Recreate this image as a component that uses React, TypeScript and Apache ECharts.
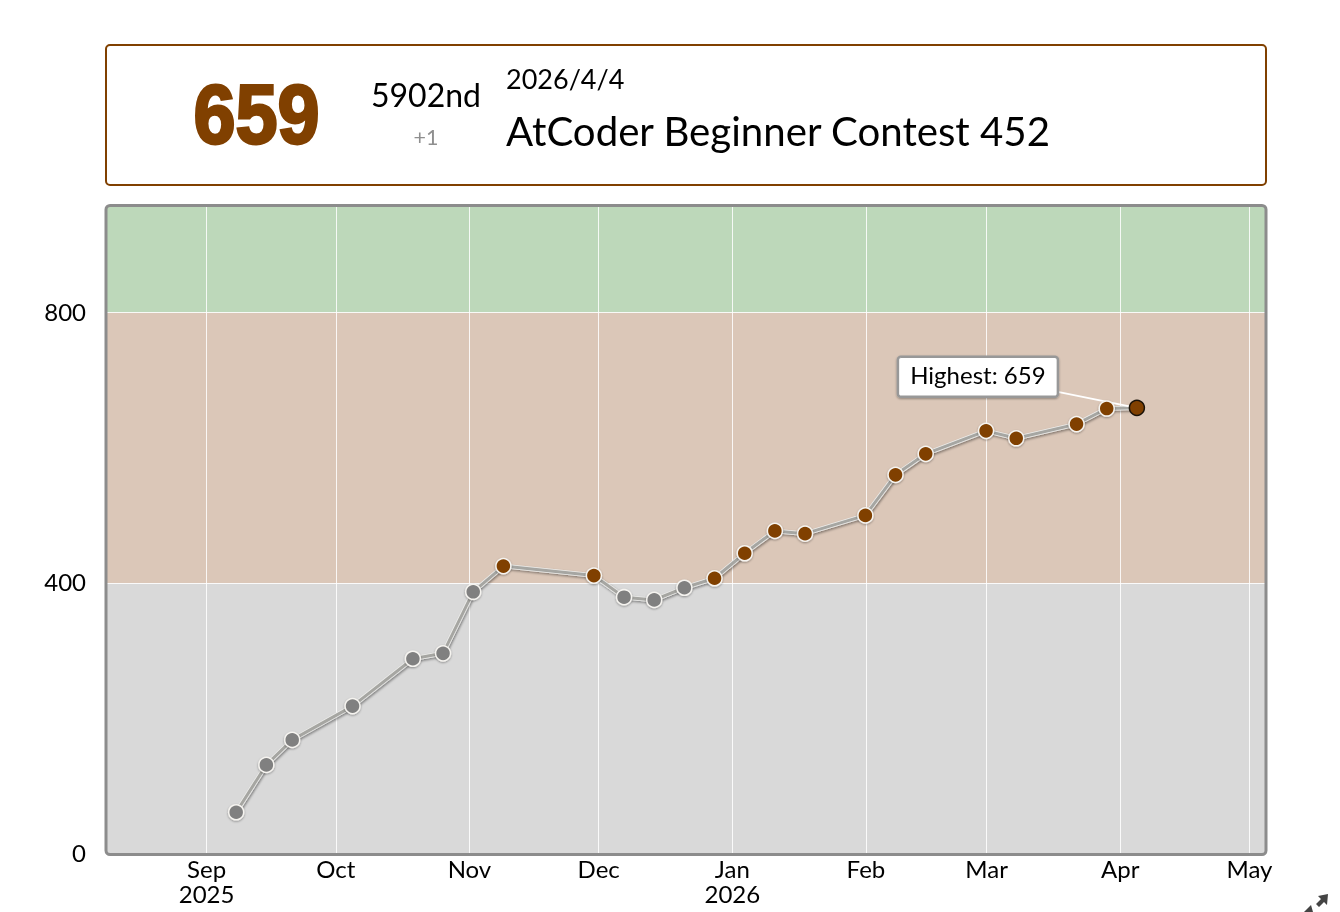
import React, { useEffect, useRef } from 'react';
import * as echarts from 'echarts';

const contestDays = [
  '2025-09-07', '2025-09-14', '2025-09-20', '2025-10-04', '2025-10-18', '2025-10-25',
  '2025-11-01', '2025-11-08', '2025-11-29', '2025-12-06', '2025-12-13', '2025-12-20',
  '2025-12-27', '2026-01-03', '2026-01-10', '2026-01-17', '2026-01-31', '2026-02-07',
  '2026-02-14', '2026-02-28', '2026-03-07', '2026-03-21', '2026-03-28', '2026-04-04',
];
const ratings = [
  61, 131, 168, 218, 288, 296, 387, 425, 411, 379, 375, 393,
  407, 444, 477, 473, 500, 560, 591, 625, 614, 635, 658, 659,
];
const monthTicks = [
  '2025-09-01', '2025-10-01', '2025-11-01', '2025-12-01', '2026-01-01',
  '2026-02-01', '2026-03-01', '2026-04-01', '2026-05-01',
];
const monthNames = ['Jan', 'Feb', 'Mar', 'Apr', 'May', 'Jun', 'Jul', 'Aug', 'Sep', 'Oct', 'Nov', 'Dec'];
const ratingTicks = [0, 400, 800];
const ratingBands = [
  { from: 0, to: 400, color: '#d9d9d9' },
  { from: 400, to: 800, color: '#dbc7b8' },
  { from: 800, to: 957.5, color: '#bdd8ba' },
];

const FONT = 'Lato, "Noto Sans", sans-serif';
const BROWN = '#804000';
const GRAY = '#808080';

const toTime = (day: string, hour = 0) => Date.UTC(+day.slice(0, 4), +day.slice(5, 7) - 1, +day.slice(8, 10), hour);

const App: React.FC = () => {
  const chartRef = useRef<HTMLDivElement>(null);

  useEffect(() => {
    if (!chartRef.current) return;
    document.body.style.margin = '0';
    const chart = echarts.init(chartRef.current, undefined, { renderer: 'svg' });

    const points = contestDays.map((day, i) => [toTime(day, 21), ratings[i]]);
    const last = points[points.length - 1];
    const dots = points.slice(0, -1).map((p) => ({
      value: p,
      itemStyle: { color: (p[1] as number) >= 400 ? BROWN : GRAY },
    }));

    const option: any = {
      animation: false,
      textStyle: { fontFamily: FONT },
      grid: { left: 107, right: 74, top: 206, bottom: 58.5 },
      xAxis: {
        // timestamps on a value axis, so that the month ticks can be listed
        type: 'value',
        z: 2,
        min: Date.UTC(2025, 7, 8, 21, 36),
        max: Date.UTC(2026, 4, 4, 20),
        axisLine: { show: false },
        axisTick: { show: false, customValues: monthTicks.map((d) => toTime(d)) },
        splitLine: { show: true, lineStyle: { color: 'rgba(255,255,255,0.85)', width: 1 } },
        axisLabel: {
          customValues: monthTicks.map((d) => toTime(d)),
          color: '#000',
          fontSize: 24,
          fontFamily: FONT,
          lineHeight: 25,
          margin: 2,
          formatter: (value: number) => {
            const d = new Date(value);
            const m = d.getUTCMonth();
            const name = monthNames[m];
            return m === 0 || (d.getUTCFullYear() === 2025 && m === 8) ? `${name}\n${d.getUTCFullYear()}` : name;
          },
        },
      },
      yAxis: {
        type: 'value',
        z: 2,
        min: 0,
        max: 957.5,
        axisLine: { show: false },
        axisTick: { show: false, customValues: ratingTicks },
        splitLine: { show: true, lineStyle: { color: 'rgba(255,255,255,0.85)', width: 1 } },
        axisLabel: {
          customValues: ratingTicks,
          color: '#000',
          fontSize: 24,
          fontFamily: FONT,
          margin: 21,
          formatter: (value: number) => `{r|${value}}`,
          rich: {
            r: { color: '#000', fontSize: 24, fontFamily: FONT, padding: [0, 0, 3, 0] },
          },
        },
      },
      series: [
        {
          // colour bands sit under the grid lines
          type: 'line',
          z: 1,
          silent: true,
          data: [],
          markArea: {
            silent: true,
            itemStyle: { opacity: 1 },
            data: ratingBands.map((b) => [
              { yAxis: b.from, itemStyle: { color: b.color } },
              { yAxis: b.to },
            ]),
          },
        },
        {
          type: 'line',
          z: 3,
          silent: true,
          symbol: 'none',
          data: points,
          lineStyle: {
            color: '#eeeeec',
            width: 4.5,
            shadowColor: 'rgba(0,0,0,0.4)',
            shadowBlur: 2,
            shadowOffsetX: 1,
            shadowOffsetY: 1.5,
          },
        },
        {
          type: 'line',
          z: 4,
          silent: true,
          symbol: 'none',
          data: points,
          lineStyle: { color: '#a6a6a2', width: 3 },
        },
        {
          type: 'custom',
          z: 5,
          silent: true,
          data: [last],
          renderItem: (_params: any, api: any) => {
            const [px, py] = api.coord([api.value(0), api.value(1)]);
            const boxW = 160;
            const boxH = 40;
            const boxX = px - 239;
            const boxY = py - 51;
            return {
              type: 'group',
              children: [
                {
                  type: 'line',
                  shape: { x1: boxX + boxW, y1: boxY + boxH - 5, x2: px, y2: py },
                  style: { stroke: '#ffffff', lineWidth: 2 },
                },
                {
                  type: 'rect',
                  shape: { x: boxX, y: boxY, width: boxW, height: boxH, r: 3 },
                  style: {
                    fill: '#ffffff',
                    stroke: '#989898',
                    lineWidth: 2.5,
                    shadowColor: 'rgba(0,0,0,0.35)',
                    shadowBlur: 2,
                    shadowOffsetY: 1,
                  },
                },
                {
                  type: 'text',
                  x: boxX + boxW / 2,
                  y: boxY + boxH / 2 - 2,
                  style: {
                    text: `Highest: ${api.value(1)}`,
                    fill: '#000',
                    font: `24px ${FONT}`,
                    align: 'center',
                    verticalAlign: 'middle',
                  },
                },
              ],
            };
          },
        },
        {
          type: 'line',
          z: 6,
          silent: true,
          showAllSymbol: true,
          symbol: 'circle',
          symbolSize: 15,
          lineStyle: { width: 0, opacity: 0 },
          data: dots,
          itemStyle: {
            borderColor: '#f6f4f0',
            borderWidth: 1.5,
            shadowColor: 'rgba(0,0,0,0.35)',
            shadowBlur: 2,
            shadowOffsetY: 1,
          },
        },
        {
          type: 'line',
          z: 6,
          silent: true,
          symbol: 'circle',
          symbolSize: 15,
          lineStyle: { width: 0, opacity: 0 },
          data: [last],
          itemStyle: { color: BROWN, borderColor: '#1a1208', borderWidth: 1.5 },
        },
      ],
      graphic: [
        {
          type: 'rect',
          z: 10,
          silent: true,
          shape: { x: 106, y: 45, width: 1160, height: 140, r: 4 },
          style: { fill: '#ffffff', stroke: BROWN, lineWidth: 2 },
        },
        {
          type: 'rect',
          z: 10,
          silent: true,
          shape: { x: 106, y: 205.5, width: 1160, height: 649, r: 4 },
          style: { fill: 'none', stroke: '#8c8c8c', lineWidth: 3 },
        },
        {
          type: 'text',
          z: 11,
          x: 256.5,
          y: 114.5,
          scaleX: 0.84,
          scaleY: 0.93,
          style: {
            text: '659',
            fill: BROWN,
            stroke: BROWN,
            lineWidth: 3,
            font: 'bold 90px "Liberation Sans", sans-serif',
            align: 'center',
            verticalAlign: 'middle',
          },
        },
        {
          type: 'text',
          z: 11,
          x: 426,
          y: 94.5,
          style: { text: '5902nd', fill: '#000', font: `32px ${FONT}`, align: 'center', verticalAlign: 'middle' },
        },
        {
          type: 'text',
          z: 11,
          x: 426,
          y: 136.5,
          style: { text: '+1', fill: '#8f8f8f', font: `21.5px ${FONT}`, align: 'center', verticalAlign: 'middle' },
        },
        {
          type: 'text',
          z: 11,
          x: 506,
          y: 78.5,
          style: { text: '2026/4/4', fill: '#000', font: `27px ${FONT}`, align: 'left', verticalAlign: 'middle' },
        },
        {
          type: 'text',
          z: 11,
          x: 506,
          y: 130,
          style: {
            text: 'AtCoder Beginner Contest 452',
            fill: '#000',
            font: `40.2px ${FONT}`,
            align: 'left',
            verticalAlign: 'middle',
          },
        },
        // resize arrows in the corner
        {
          type: 'polygon',
          z: 11,
          silent: true,
          shape: { points: [[1318, 896], [1328, 894], [1327, 905], [1324, 902], [1319, 907], [1316, 904], [1321, 899]] },
          style: { fill: '#444444' },
        },
        {
          type: 'polygon',
          z: 11,
          silent: true,
          shape: { points: [[1304, 912], [1308, 908], [1311, 905], [1313, 912]] },
          style: { fill: '#444444' },
        },
      ],
    };

    chart.setOption(option);

    return () => {
      chart.dispose();
    };
  }, []);

  return <div ref={chartRef} style={{ position: 'fixed', left: 0, top: 0, width: 1340, height: 912 }} />;
};

export default App;
